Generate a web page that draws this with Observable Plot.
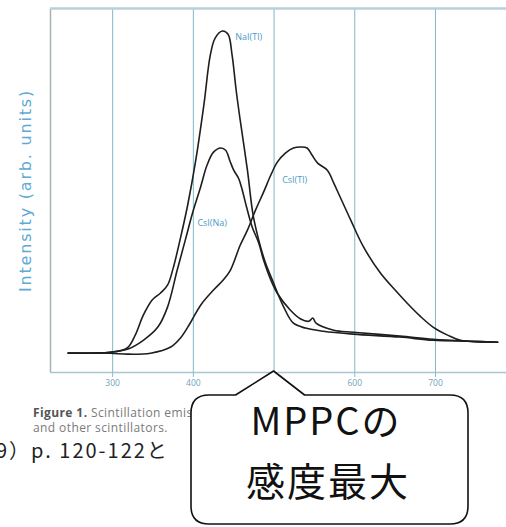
<!DOCTYPE html>
<html><head><meta charset="utf-8">
<script src="https://cdn.jsdelivr.net/npm/d3@7"></script>
<script src="https://cdn.jsdelivr.net/npm/@observablehq/plot@0.6"></script>
<style>
body{margin:0;background:#fff;}
#wrap{position:relative;width:506px;height:527px;overflow:hidden;background:#fff;}
.cap{position:absolute;white-space:nowrap;}
#callout{position:absolute;left:0;top:0;pointer-events:none;}
</style></head><body>
<div id="wrap">
<div id="chart"></div>
<div class="cap" style="left:33px;top:406px;font:12px/14px 'Open Sans',sans-serif;color:#7a7a7a;letter-spacing:0.4px"><b style="color:#555">Figure 1.</b> Scintillation emission spectra of NaI(Tl), CsI(Tl)</div>
<div class="cap" style="left:33px;top:421px;font:12px/14px 'Open Sans',sans-serif;color:#7a7a7a;letter-spacing:0.4px">and other scintillators.</div>
<div class="cap" style="left:-4px;top:439px;font:20px/21px 'Noto Sans CJK JP',sans-serif;color:#222;letter-spacing:2px">9）p. 120-122と</div>
<svg id="callout" width="506" height="527"></svg>
</div>
<script>
const wavelengthTicks = [300, 400, 500, 600, 700];
const xDomain = [223, 788];
const yDomain = [-6, 107];
const seriesNames = ["NaI(Tl)", "CsI(Na)", "CsI(Tl)"];

const naiNm = [245,297,318,328,338,349,359,368,375,384,393,403,413,421,427,436,443,448,453,458,467,474,481,489,499,512,524,539,561,598,656,697,743,777];
const naiI  = [0,0.3,1.6,5.6,11.8,16.5,18.6,21.1,26.4,35.7,46,59.9,77,92.5,97.8,100,99,92.5,81.7,72.4,56.8,42.9,35.1,28.3,22,14.3,9.3,7.8,6.8,5.9,5,4,3.7,3.4];

const csiNaNm = [245,297,318,338,356,368,380,390,399,409,417,425,434,440,445,450,456,460,466,473,481,487,496,504,520,533,543,548,552,574,598,656,697,743,777];
const csiNaI  = [0,0.3,1.2,4,8.1,14.3,25.8,35.1,43.5,51.6,58.4,62.4,63.7,63,59.9,56.8,54.3,51.2,45.3,39.1,34.2,28.9,22.7,18.6,13.4,10.6,9.9,10.9,9.3,7.1,6.5,5.3,4.3,3.7,3.4];

const csiTlNm = [245,297,318,347,372,384,396,409,425,437,446,458,467,477,487,496,504,514,524,533,541,547,554,566,574,582,595,611,632,650,665,681,697,715,731,777];
const csiTlI  = [0,0,-0.3,0,1.9,4.7,9.3,14.9,19.6,22.7,25.8,33.5,38.2,44.4,50,55.3,59.3,62.1,63.7,64,63.7,61.5,59,56.8,52.8,48.4,41.3,32.9,24.8,19.6,15.5,11.5,8.1,5.6,4,3.4];

const labelNm = [452, 405, 510];
const labelI = [98, 40.4, 53.7];
const yLabel = "Intensity (arb. units)";
const mppcPeakNm = 500;

const rows = [];
[[naiNm, naiI], [csiNaNm, csiNaI], [csiTlNm, csiTlI]].forEach(([xs, ys], k) =>
  xs.forEach((x, i) => rows.push({series: seriesNames[k], nm: x, I: ys[i]})));
const labels = seriesNames.map((s, i) => ({name: s, nm: labelNm[i], I: labelI[i]}));

const plot = Plot.plot({
  width: 506, height: 400,
  marginLeft: 50, marginRight: 0, marginTop: 8, marginBottom: 28,
  x: {domain: xDomain, axis: null},
  y: {domain: yDomain, axis: null},
  style: {background: "white", fontFamily: "'Open Sans', sans-serif"},
  marks: [
    Plot.gridX(wavelengthTicks, {stroke: "#7fb9c9", strokeOpacity: 1, strokeWidth: 1}),
    Plot.ruleX([xDomain[0]], {stroke: "#a6b3b9", strokeWidth: 1.5}),
    Plot.ruleY([yDomain[1]], {stroke: "#b9d0d8", strokeWidth: 2.5}),
    Plot.ruleY([yDomain[0]], {stroke: "#a9c6d1", strokeWidth: 1.5}),
    Plot.axisX(wavelengthTicks, {tickSize: 5, tickPadding: 2, stroke: "#8fbccb", fill: "#6fa3bd", fontSize: 8.5, label: null}),
    Plot.line(rows, {x: "nm", y: "I", z: "series", stroke: "#1e1e1e", strokeWidth: 1.6, curve: "catmull-rom"}),
    Plot.text(labels, {x: "nm", y: "I", text: "name", textAnchor: "start", fill: "#4b9bc8", fontSize: 9}),
    Plot.text([yLabel], {frameAnchor: "left", textAnchor: "middle", rotate: -90, dx: -25, text: d => d, fill: "#5eaad3", fontSize: 16})
  ]
});
document.getElementById("chart").appendChild(plot);
d3.select(plot).selectAll("text").filter(function(){ return this.textContent === yLabel; })
  .style("letter-spacing", "1.8px").style("font-family", "'DejaVu Sans', sans-serif");

// callout bubble pointing at the MPPC peak-sensitivity wavelength
const apexX = plot.scale("x").apply(mppcPeakNm);
const bTop = 395, bBot = 524, bL = 191, bR = 468, br = 18;
const bubblePath = `M${bL + br},${bTop} L${apexX - 38},${bTop} L${apexX},371 L${apexX + 31},${bTop} L${bR - br},${bTop} Q${bR},${bTop} ${bR},${bTop + br} L${bR},${bBot - br} Q${bR},${bBot} ${bR - br},${bBot} L${bL + br},${bBot} Q${bL},${bBot} ${bL},${bBot - br} L${bL},${bTop + br} Q${bL},${bTop} ${bL + br},${bTop} Z`;
const co = d3.select("#callout");
co.append("path").attr("d", bubblePath).attr("fill", "white").attr("stroke", "#111").attr("stroke-width", 1.6).attr("stroke-linejoin", "round");
co.append("text").attr("x", 326).attr("y", 435).attr("text-anchor", "middle")
  .attr("font-family", "'Noto Sans CJK JP', sans-serif").attr("font-size", 38).attr("letter-spacing", "2px").attr("fill", "#111").text("MPPCの");
co.append("text").attr("x", 328).attr("y", 496).attr("text-anchor", "middle")
  .attr("font-family", "'Noto Sans CJK JP', sans-serif").attr("font-size", 39).attr("letter-spacing", "2px").attr("fill", "#111").text("感度最大");
</script>
</body></html>
